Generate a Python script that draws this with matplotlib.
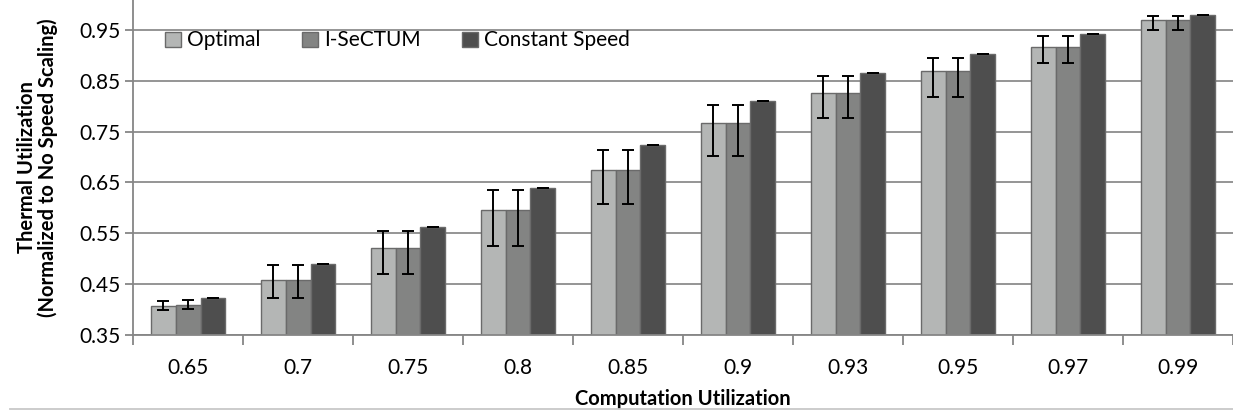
import matplotlib.pyplot as plt
import matplotlib.lines as mlines
import numpy as np

plt.rcParams['font.family'] = ['Lato', 'DejaVu Sans']

categories = ['0.65', '0.7', '0.75', '0.8', '0.85', '0.9', '0.93', '0.95', '0.97', '0.99']
optimal = [0.407, 0.457, 0.521, 0.595, 0.675, 0.767, 0.826, 0.870, 0.917, 0.970]
isectum = [0.408, 0.457, 0.521, 0.595, 0.675, 0.767, 0.826, 0.870, 0.917, 0.970]
constant = [0.422, 0.490, 0.562, 0.640, 0.724, 0.811, 0.866, 0.904, 0.942, 0.981]
opt_err_lo = [0.009, 0.034, 0.051, 0.071, 0.068, 0.065, 0.049, 0.051, 0.031, 0.019]
opt_err_hi = [0.010, 0.031, 0.034, 0.041, 0.040, 0.035, 0.035, 0.026, 0.021, 0.008]
isec_err_lo = [0.008, 0.034, 0.051, 0.071, 0.068, 0.065, 0.049, 0.051, 0.031, 0.019]
isec_err_hi = [0.011, 0.031, 0.034, 0.041, 0.040, 0.035, 0.035, 0.026, 0.021, 0.008]
const_err = [0, 0, 0, 0, 0, 0, 0, 0, 0, 0]

series = [
    ('Optimal', optimal, [opt_err_lo, opt_err_hi], '#b4b6b5'),
    ('I-SeCTUM', isectum, [isec_err_lo, isec_err_hi], '#838483'),
    ('Constant Speed', constant, [const_err, const_err], '#4e4e4e'),
]

fig = plt.figure(figsize=(12.33, 4.11), dpi=100)
ax = fig.add_axes([0.108, 0.186, 0.892, 0.814])

x = np.arange(len(categories))
w = 0.225
for i, (name, vals, err, col) in enumerate(series):
    pos = x + (i - 1) * w
    ax.bar(pos, vals, w, color=col, edgecolor='#6a6a6a', linewidth=1.0,
           label=name, zorder=2)
    ax.errorbar(pos, vals, yerr=err, fmt='none', ecolor='black',
                elinewidth=1.4, capsize=4.5, capthick=1.4, zorder=3)

ax.set_xlim(-0.5, len(categories) - 0.5)
ax.set_ylim(0.35, 1.01)
ax.set_yticks([0.35, 0.45, 0.55, 0.65, 0.75, 0.85, 0.95])
ax.set_yticklabels(['0.35', '0.45', '0.55', '0.65', '0.75', '0.85', '0.95'])
ax.set_xticks(x)
ax.set_xticklabels(categories)
ax.set_xticks(np.arange(len(categories) + 1) - 0.5, minor=True)

ax.yaxis.grid(True, color='#8c8c8c', linewidth=1.3, zorder=0)
ax.set_axisbelow(True)
for s in ['top', 'right']:
    ax.spines[s].set_visible(False)
for s in ['left', 'bottom']:
    ax.spines[s].set_color('#868686')
    ax.spines[s].set_linewidth(1.3)

ax.tick_params(axis='x', which='major', length=0, labelsize=15, pad=17)
ax.tick_params(axis='x', which='minor', length=7, width=1.3, color='#868686')
ax.tick_params(axis='y', length=6, width=1.3, color='#868686', labelsize=15, pad=3)

ax.set_xlabel('Computation Utilization', fontsize=14.5, fontweight='bold', labelpad=8)
ax.set_ylabel('Thermal Utilization\n(Normalized to No Speed Scaling)', fontsize=14.5,
              fontweight='bold', linespacing=1.05)
ax.yaxis.set_label_coords(-0.068, 0.5)

ax.legend(loc='upper left', bbox_to_anchor=(0.012, 0.965), ncol=3, frameon=False,
          fontsize=15, handlelength=0.75, handleheight=0.75, handletextpad=0.3,
          columnspacing=2.0)

fig.add_artist(mlines.Line2D([0.008, 1.0], [0.005, 0.005], color='#c8c8c8',
                             linewidth=1.3, transform=fig.transFigure))

fig.savefig('out.png', dpi=100)
